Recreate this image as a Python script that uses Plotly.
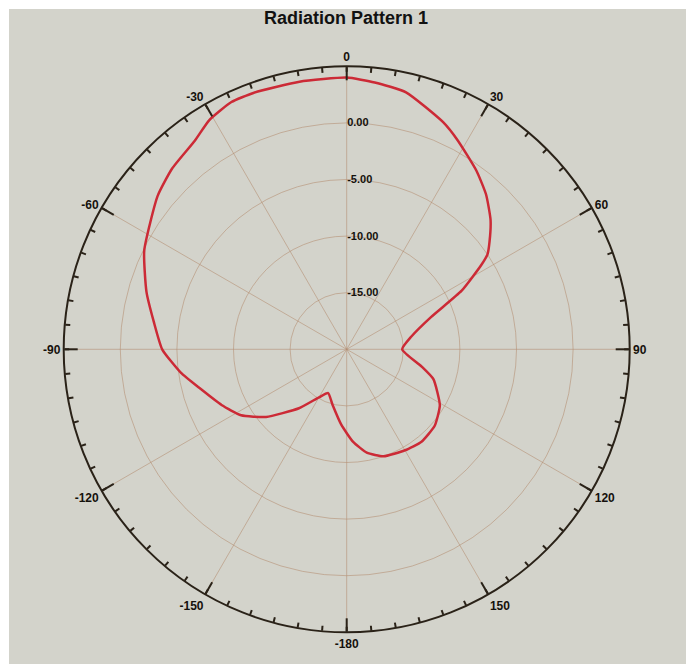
import plotly.graph_objects as go

# Measured gain (dB) versus azimuth (deg, clockwise from boresight)
theta_deg = [0, 6, 13, 23, 28, 36, 42, 48, 53, 56, 58, 63, 69, 79, 90,
             103, 109, 121, 131, 141, 150, 161, 169, 176, 184, 194, 203,
             210, 219, 230, 238, 246, 255, 262, 270, 278, 286, 296, 309,
             316, 324, 329, 335, 340, 350, 360]
gain_db = [4.0, 3.7, 3.3, 1.8, 0.9, -0.5, -1.6, -2.9, -4.2, -5.0, -6.0, -8.6, -12.0, -14.2, -15.1,
           -13.2, -11.9, -10.4, -9.7, -9.5, -9.7, -10.0, -10.7, -11.8, -13.3, -14.9, -15.8,
           -15.1, -13.3, -10.7, -9.0, -7.9, -6.6, -5.2, -3.7, -2.8, -1.6, -0.1, 1.5,
           2.2, 2.8, 3.6, 4.1, 4.1, 4.0, 4.0]

ang_ticks = list(range(0, 360, 30))
ang_labels = ["0", "30", "60", "90", "120", "150", "-180", "-150", "-120", "-90", "-60", "-30"]
minor_ticks = list(range(0, 360, 5))
radial_ticks = [-15, -10, -5, 0]
radial_labels = ["-15.00", "-10.00", "-5.00", "0.00"]

BG = "#d3d3cb"
INK = "#2a2218"
GRID = "rgba(178,138,110,0.55)"
LABEL_FONT = dict(family="Liberation Sans", size=12, color="#15110c", weight="bold")

W, H = 686, 664
cx, cy, R = 346.7, 349.3, 283.0
domain = dict(x=[(cx - R) / W, (cx + R) / W],
              y=[(H - cy - R) / H, (H - cy + R) / H])

fig = go.Figure()
fig.add_trace(go.Scatterpolar(
    r=gain_db, theta=theta_deg, mode="lines",
    line=dict(color="#cc2a36", width=2.5, shape="spline", smoothing=0.5),
    subplot="polar", showlegend=False, hoverinfo="skip"))
# overlay subplot that only carries the 5-degree minor ticks
fig.add_trace(go.Scatterpolar(r=[], theta=[], subplot="polar2",
                              showlegend=False, hoverinfo="skip"))

fig.update_layout(
    width=W, height=H, autosize=False,
    margin=dict(l=0, r=0, t=0, b=0),
    paper_bgcolor="white",
    showlegend=False,
    shapes=[dict(type="rect", xref="paper", yref="paper",
                 x0=9 / W, x1=1, y0=0, y1=1 - 9 / H,
                 fillcolor=BG, line=dict(width=0), layer="below")],
    annotations=[dict(text="Radiation Pattern 1", xref="paper", yref="paper",
                      x=346 / W, y=1 - 18 / H, xanchor="center", yanchor="middle",
                      showarrow=False,
                      font=dict(family="Liberation Sans", size=18, color="#111111",
                                weight="bold"))],
    polar=dict(
        domain=domain,
        bgcolor=BG,
        angularaxis=dict(
            direction="clockwise", rotation=90,
            tickmode="array", tickvals=ang_ticks, ticktext=ang_labels,
            ticks="inside", ticklen=13, tickwidth=1.5, tickcolor=INK,
            showline=True, linecolor=INK, linewidth=2,
            showgrid=True, gridcolor=GRID, gridwidth=1,
            tickfont=LABEL_FONT),
        radialaxis=dict(
            range=[-20, 5], angle=90, tickangle=90, side="clockwise",
            tickmode="array", tickvals=radial_ticks, ticktext=radial_labels,
            ticks="", showline=False,
            showgrid=True, gridcolor=GRID, gridwidth=1.2,
            tickfont=dict(family="Liberation Sans", size=11, color="#15110c",
                          weight="bold")),
    ),
    polar2=dict(
        domain=domain,
        bgcolor="rgba(0,0,0,0)",
        angularaxis=dict(
            direction="clockwise", rotation=90,
            tickmode="array", tickvals=minor_ticks,
            ticks="inside", ticklen=5, tickwidth=2, tickcolor=INK,
            showticklabels=False, showline=False, showgrid=False),
        radialaxis=dict(range=[-20, 5], visible=False),
    ),
)

fig.write_html("out.html")
